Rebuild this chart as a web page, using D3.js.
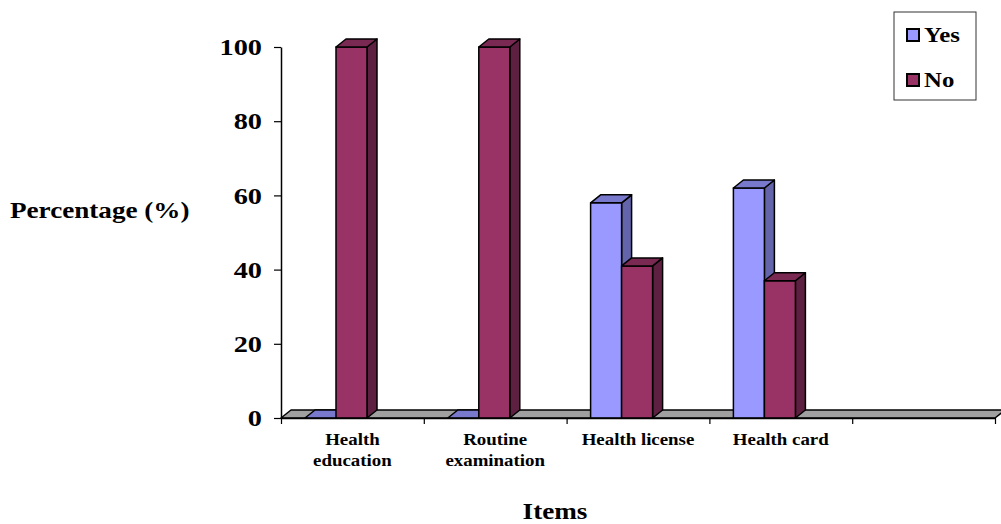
<!DOCTYPE html>
<html>
<head>
<meta charset="utf-8">
<script src="https://cdn.jsdelivr.net/npm/d3@7"></script>
<style>
body { margin: 0; background: #fff; }
svg { display: block; font-family: "Liberation Serif", "Times New Roman", serif; font-weight: bold; }
</style>
</head>
<body>
<script>
// chart data
const categories = [["Health", "education"], ["Routine", "examination"], ["Health license"], ["Health card"], []]
const seriesNames = ["Yes", "No"]
const yesValues = [0, 0, 58, 62, null]
const noValues = [100, 100, 41, 37, null]
const yTicks = [0, 20, 40, 60, 80, 100]

const width = 1001, height = 524
const marginLeft = 281, marginRight = 6, marginTop = 47, marginBottom = 106
const dx = 10, dy = 8 // 3D depth offset
const stretch = 1.18 // the original text is a bit wider than plain Times

const colors = {
	Yes: {front: "#9999ff", top: "#7878cc", side: "#6464aa"},
	No: {front: "#993366", top: "#7a2952", side: "#5e2040"}
}

const x = d3.scaleBand().domain(d3.range(categories.length)).range([marginLeft, width - marginRight])
const xs = d3.scaleBand().domain(seriesNames).range([24, 86])
const y = d3.scaleLinear().domain([0, 100]).range([height - marginBottom, marginTop])
const xEdge = d3.scaleLinear().domain([0, categories.length]).range([marginLeft, width - marginRight])

const svg = d3.select("body").append("svg")
	.attr("width", width)
	.attr("height", height)
	.attr("viewBox", [0, 0, width, height])

const y0 = y(0)

// widen a text around its anchor point
function widen(sel) {
	sel.each(function() {
		const t = d3.select(this)
		const tx = +t.attr("x") || 0, ty = +t.attr("y") || 0
		t.attr("x", 0).attr("y", 0)
			.attr("transform", `translate(${tx},${ty}) scale(${stretch},1)`)
	})
}

// floor
svg.append("path")
	.attr("d", `M${marginLeft},${y0}L${marginLeft + dx},${y0 - dy}L${width - marginRight + dx},${y0 - dy}L${width - marginRight},${y0}Z`)
	.attr("fill", "#a0a0a0")
	.attr("stroke", "#000")
	.attr("stroke-width", 1.5)
	.attr("stroke-linejoin", "round")

// bars
const bars = []
categories.forEach((c, i) => {
	if (yesValues[i] != null) bars.push({i, key: "Yes", value: yesValues[i]})
	if (noValues[i] != null) bars.push({i, key: "No", value: noValues[i]})
})

const g = svg.append("g")
	.attr("stroke", "#000")
	.attr("stroke-width", 1.5)
	.attr("stroke-linejoin", "round")

for (const d of bars) {
	const x0 = x(d.i) + xs(d.key), x1 = x0 + xs.bandwidth()
	const yt = y(d.value), yb = y0
	const c = colors[d.key]
	const b = g.append("g")
	if (yb > yt) {
		b.append("path")
			.attr("d", `M${x1},${yt}L${x1 + dx},${yt - dy}L${x1 + dx},${yb - dy}L${x1},${yb}Z`)
			.attr("fill", c.side)
		b.append("rect")
			.attr("x", x0).attr("y", yt)
			.attr("width", x1 - x0).attr("height", yb - yt)
			.attr("fill", c.front)
	}
	b.append("path")
		.attr("d", `M${x0},${yt}L${x0 + dx},${yt - dy}L${x1 + dx},${yt - dy}L${x1},${yt}Z`)
		.attr("fill", c.top)
}

// y axis
svg.append("g")
	.attr("transform", `translate(${marginLeft},0)`)
	.call(d3.axisLeft(y).tickValues(yTicks).tickSize(7).tickPadding(12).tickSizeOuter(0))
	.call(g => g.select(".domain").attr("stroke-width", 1.5))
	.call(g => g.selectAll("line").attr("stroke-width", 1.2))
	.call(g => g.selectAll("text")
		.attr("font-size", 24)
		.attr("font-family", "Liberation Serif, serif")
		.attr("font-weight", "bold")
		.attr("fill", "#000")
		.call(widen))

// x axis
svg.append("g")
	.attr("transform", `translate(0,${y0})`)
	.call(d3.axisBottom(xEdge).tickValues(d3.range(categories.length + 1)).tickFormat("").tickSize(6).tickSizeOuter(0))
	.call(g => g.select(".domain").attr("stroke-width", 1.5))
	.call(g => g.selectAll("line").attr("stroke-width", 1.2))

svg.append("g")
	.selectAll("text")
	.data(categories)
	.join("text")
	.attr("text-anchor", "middle")
	.attr("font-size", 16)
	.attr("transform", (d, i) => `translate(${x(i) + x.bandwidth() / 2},445) scale(${stretch},1)`)
	.selectAll("tspan")
	.data(d => d)
	.join("tspan")
	.attr("x", 0)
	.attr("dy", (d, j) => j ? 21 : 0)
	.text(d => d)

// axis titles
svg.append("text")
	.attr("x", 10).attr("y", 218)
	.attr("font-size", 23)
	.text("Percentage (%)")
	.call(widen)

svg.append("text")
	.attr("x", 555).attr("y", 519)
	.attr("text-anchor", "middle")
	.attr("font-size", 23)
	.text("Items")
	.call(widen)

// legend
const legend = svg.append("g")
legend.append("rect")
	.attr("x", 894).attr("y", 12)
	.attr("width", 82).attr("height", 88)
	.attr("fill", "#fff")
	.attr("stroke", "#333")
	.attr("stroke-width", 1)
const li = legend.selectAll("g.item")
	.data(seriesNames)
	.join("g")
	.attr("class", "item")
	.attr("transform", (d, i) => `translate(907,${29 + i * 45})`)
li.append("rect")
	.attr("width", 12).attr("height", 12)
	.attr("fill", d => colors[d].front)
	.attr("stroke", "#000")
	.attr("stroke-width", 2)
li.append("text")
	.attr("x", 17).attr("y", 13)
	.attr("font-size", 21)
	.text(d => d)
	.call(widen)
</script>
</body>
</html>
